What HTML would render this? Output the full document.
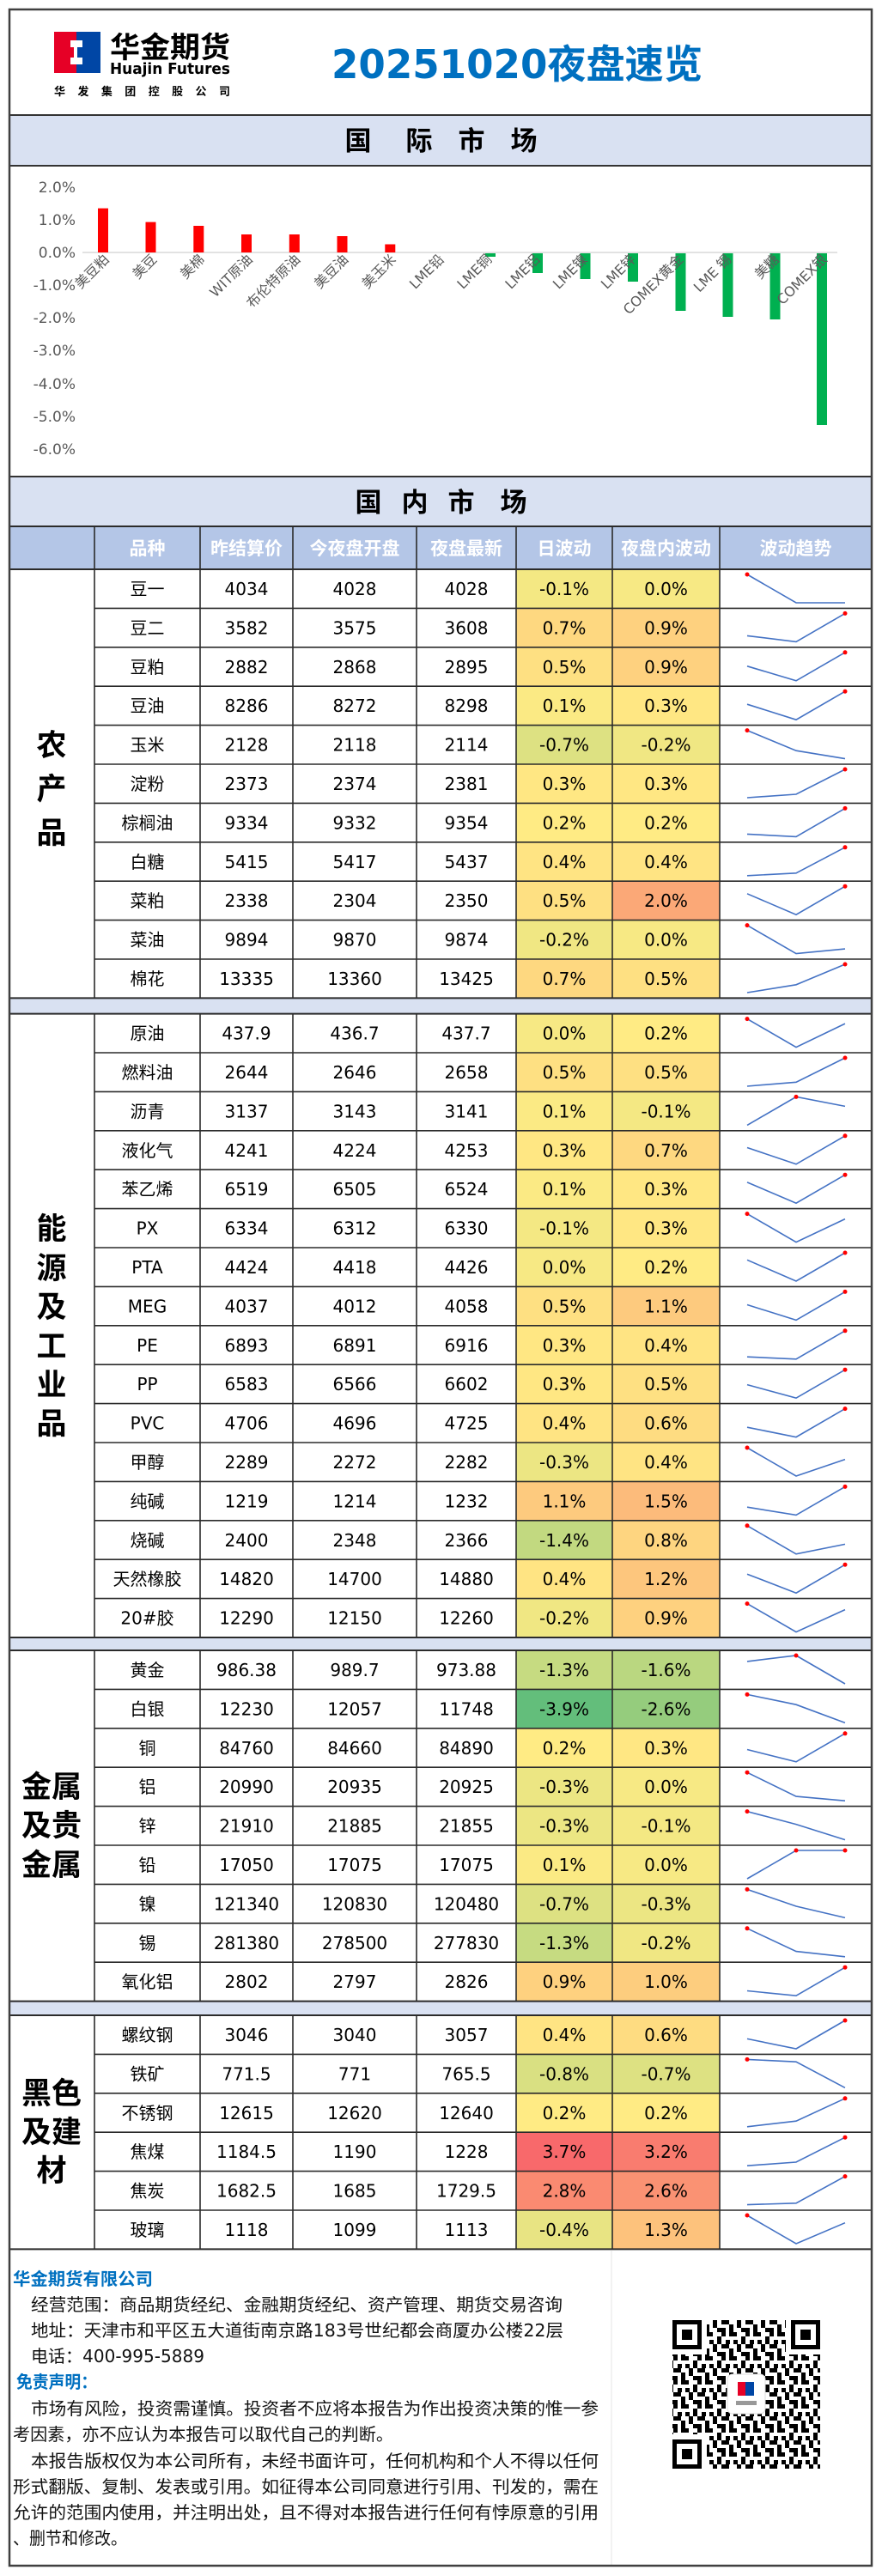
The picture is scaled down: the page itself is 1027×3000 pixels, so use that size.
<!DOCTYPE html>
<html><head><meta charset="utf-8"><style>
html,body{margin:0;padding:0;background:#fff}
svg{display:block}
text{font-family:"DejaVu Sans","Noto Sans CJK SC",sans-serif}
.r text{font-size:20px;text-anchor:middle;fill:#000}
.r polyline{fill:none;stroke:#4472c4;stroke-width:1.6}
.r circle{fill:#f00}
.r line{stroke:#2b2b2b;stroke-width:1.6}
.ax{font-size:17px;fill:#595959;text-anchor:end}
.xl{font-size:16px;fill:#595959;text-anchor:end}
.hd{font-size:21px;font-weight:bold;fill:#fff;text-anchor:middle}
.sec{font-size:35px;font-weight:bold;text-anchor:middle;fill:#000}
.ft{font-size:20px;fill:#111}
</style></head><body>
<svg width="1027" height="3000" viewBox="0 0 1027 3000" xmlns="http://www.w3.org/2000/svg">
<rect width="1027" height="3000" fill="#fff"/>

<!-- header -->
<rect x="63" y="37" width="26" height="48" fill="#e60026"/>
<rect x="89" y="37" width="28" height="48" fill="#0046a5"/>
<path d="M82 47 h14 v8 h-6 v12 h6 v8 h-14 v-8 h4 v-12 h-4z" fill="#fff"/>
<text x="128" y="67" font-size="34" font-weight="bold" textLength="140" lengthAdjust="spacingAndGlyphs">华金期货</text>
<text x="128" y="86" font-size="18" font-weight="bold" textLength="140" lengthAdjust="spacingAndGlyphs">Huajin Futures</text>
<text x="63" y="111" font-size="13" font-weight="bold" textLength="205" lengthAdjust="spacing">华发集团控股公司</text>
<text x="386" y="91" font-size="46" font-weight="bold" fill="#0070c0" textLength="432" lengthAdjust="spacingAndGlyphs">20251020夜盘速览</text>

<!-- intl band -->
<rect x="11" y="134" width="1004" height="59" fill="#d9e1f2"/>
<g font-size="31" font-weight="bold" text-anchor="middle">
<text x="417" y="175">国</text><text x="488" y="175">际</text><text x="549" y="175">市</text><text x="610" y="175">场</text>
</g>
<line x1="11" y1="134" x2="1015" y2="134" stroke="#333" stroke-width="2"/>
<line x1="11" y1="193" x2="1015" y2="193" stroke="#333" stroke-width="2"/>

<!-- chart -->
<g>
<text class="ax" x="88" y="224">2.0%</text>
<text class="ax" x="88" y="262">1.0%</text>
<text class="ax" x="88" y="300">0.0%</text>
<text class="ax" x="88" y="338">-1.0%</text>
<text class="ax" x="88" y="376">-2.0%</text>
<text class="ax" x="88" y="414">-3.0%</text>
<text class="ax" x="88" y="453">-4.0%</text>
<text class="ax" x="88" y="491">-5.0%</text>
<text class="ax" x="88" y="529">-6.0%</text>
<line x1="96" y1="294" x2="975" y2="294" stroke="#d9d9d9" stroke-width="1.5"/>
<g fill="#ff0000">
<rect x="114" y="242.6" width="12" height="51.4"/>
<rect x="169.5" y="258.6" width="12" height="35.4"/>
<rect x="225.3" y="263" width="12" height="31"/>
<rect x="281" y="273" width="12" height="21"/>
<rect x="336.8" y="273" width="12" height="21"/>
<rect x="392.5" y="275" width="12" height="19"/>
<rect x="448.3" y="284.5" width="12" height="9.5"/>
</g>
<g fill="#00b050">
<rect x="565" y="295" width="12" height="4"/>
<rect x="620" y="295" width="12" height="23"/>
<rect x="675.5" y="295" width="12" height="30"/>
<rect x="731" y="295" width="12" height="33"/>
<rect x="786.5" y="295" width="12" height="67"/>
<rect x="841.5" y="295" width="12" height="74"/>
<rect x="896.5" y="295" width="12" height="77"/>
<rect x="951" y="295" width="12" height="200"/>
</g>
<text class="xl" transform="translate(128,303) rotate(-45)">美豆粕</text>
<text class="xl" transform="translate(183.5,303) rotate(-45)">美豆</text>
<text class="xl" transform="translate(239,303) rotate(-45)">美棉</text>
<text class="xl" transform="translate(295,303) rotate(-45)">WIT原油</text>
<text class="xl" transform="translate(350.5,303) rotate(-45)">布伦特原油</text>
<text class="xl" transform="translate(406.5,303) rotate(-45)">美豆油</text>
<text class="xl" transform="translate(462,303) rotate(-45)">美玉米</text>
<text class="xl" transform="translate(518,303) rotate(-45)">LME铅</text>
<text class="xl" transform="translate(573.5,303) rotate(-45)">LME铜</text>
<text class="xl" transform="translate(629.5,303) rotate(-45)">LME铝</text>
<text class="xl" transform="translate(685,303) rotate(-45)">LME镍</text>
<text class="xl" transform="translate(741,303) rotate(-45)">LME锌</text>
<text class="xl" transform="translate(796.5,303) rotate(-45)">COMEX黄金</text>
<text class="xl" transform="translate(852.5,303) rotate(-45)">LME 锡</text>
<text class="xl" transform="translate(908,303) rotate(-45)">美糖</text>
<text class="xl" transform="translate(964,303) rotate(-45)">COMEX银</text>
</g>

<!-- domestic band & header -->
<rect x="11" y="555" width="1004" height="58" fill="#d9e1f2"/>
<line x1="11" y1="555" x2="1015" y2="555" stroke="#333" stroke-width="2"/>
<g font-size="31" font-weight="bold" text-anchor="middle">
<text x="429" y="596">国</text><text x="483" y="596">内</text><text x="537" y="596">市</text><text x="598" y="596">场</text>
</g>
<rect x="11" y="613" width="1004" height="50" fill="#b4c6e7"/>
<text class="hd" x="171.5" y="646">品种</text>
<text class="hd" x="287" y="646">昨结算价</text>
<text class="hd" x="413" y="646">今夜盘开盘</text>
<text class="hd" x="543" y="646">夜盘最新</text>
<text class="hd" x="657" y="646">日波动</text>
<text class="hd" x="775.5" y="646">夜盘内波动</text>
<text class="hd" x="926.5" y="646">波动趋势</text>

<!-- separators -->
<rect x="11" y="1162.4" width="1004" height="18.2" fill="#d9e1f2"/>
<rect x="11" y="1907" width="1004" height="15" fill="#d9e1f2"/>
<rect x="11" y="2330.6" width="1004" height="16.4" fill="#d9e1f2"/>

<!-- AG -->
<g class="r" transform="translate(0,663)"><rect x="601" width="112" height="45.4" fill="#f4e883"/><rect x="713" width="125" height="45.4" fill="#f7e984"/><line x1="110" x2="1015" y1="0" y2="0"/><text x="171.5" y="30">豆一</text><text x="287" y="30">4034</text><text x="413" y="30">4028</text><text x="543" y="30">4028</text><text x="657" y="30">-0.1%</text><text x="775.5" y="30">0.0%</text><polyline points="870,6 927,39 984,39"/><circle cx="870" cy="6" r="2.5"/></g>
<g class="r" transform="translate(0,708.4)"><rect x="601" width="112" height="45.4" fill="#fed880"/><rect x="713" width="125" height="45.4" fill="#fed17f"/><line x1="110" x2="1015" y1="0" y2="0"/><text x="171.5" y="30">豆二</text><text x="287" y="30">3582</text><text x="413" y="30">3575</text><text x="543" y="30">3608</text><text x="657" y="30">0.7%</text><text x="775.5" y="30">0.9%</text><polyline points="870,32 927,39 984,6"/><circle cx="984" cy="6" r="2.5"/></g>
<g class="r" transform="translate(0,753.8)"><rect x="601" width="112" height="45.4" fill="#fee082"/><rect x="713" width="125" height="45.4" fill="#fed17f"/><line x1="110" x2="1015" y1="0" y2="0"/><text x="171.5" y="30">豆粕</text><text x="287" y="30">2882</text><text x="413" y="30">2868</text><text x="543" y="30">2895</text><text x="657" y="30">0.5%</text><text x="775.5" y="30">0.9%</text><polyline points="870,22 927,39 984,6"/><circle cx="984" cy="6" r="2.5"/></g>
<g class="r" transform="translate(0,799.2)"><rect x="601" width="112" height="45.4" fill="#fbea84"/><rect x="713" width="125" height="45.4" fill="#ffe783"/><line x1="110" x2="1015" y1="0" y2="0"/><text x="171.5" y="30">豆油</text><text x="287" y="30">8286</text><text x="413" y="30">8272</text><text x="543" y="30">8298</text><text x="657" y="30">0.1%</text><text x="775.5" y="30">0.3%</text><polyline points="870,21 927,39 984,6"/><circle cx="984" cy="6" r="2.5"/></g>
<g class="r" transform="translate(0,844.6)"><rect x="601" width="112" height="45.4" fill="#dde182"/><rect x="713" width="125" height="45.4" fill="#f0e783"/><line x1="110" x2="1015" y1="0" y2="0"/><text x="171.5" y="30">玉米</text><text x="287" y="30">2128</text><text x="413" y="30">2118</text><text x="543" y="30">2114</text><text x="657" y="30">-0.7%</text><text x="775.5" y="30">-0.2%</text><polyline points="870,6 927,29.6 984,39"/><circle cx="870" cy="6" r="2.5"/></g>
<g class="r" transform="translate(0,890)"><rect x="601" width="112" height="45.4" fill="#ffe783"/><rect x="713" width="125" height="45.4" fill="#ffe783"/><line x1="110" x2="1015" y1="0" y2="0"/><text x="171.5" y="30">淀粉</text><text x="287" y="30">2373</text><text x="413" y="30">2374</text><text x="543" y="30">2381</text><text x="657" y="30">0.3%</text><text x="775.5" y="30">0.3%</text><polyline points="870,39 927,35 984,6"/><circle cx="984" cy="6" r="2.5"/></g>
<g class="r" transform="translate(0,935.4)"><rect x="601" width="112" height="45.4" fill="#ffeb84"/><rect x="713" width="125" height="45.4" fill="#ffeb84"/><line x1="110" x2="1015" y1="0" y2="0"/><text x="171.5" y="30">棕榈油</text><text x="287" y="30">9334</text><text x="413" y="30">9332</text><text x="543" y="30">9354</text><text x="657" y="30">0.2%</text><text x="775.5" y="30">0.2%</text><polyline points="870,36 927,39 984,6"/><circle cx="984" cy="6" r="2.5"/></g>
<g class="r" transform="translate(0,980.8)"><rect x="601" width="112" height="45.4" fill="#ffe483"/><rect x="713" width="125" height="45.4" fill="#ffe483"/><line x1="110" x2="1015" y1="0" y2="0"/><text x="171.5" y="30">白糖</text><text x="287" y="30">5415</text><text x="413" y="30">5417</text><text x="543" y="30">5437</text><text x="657" y="30">0.4%</text><text x="775.5" y="30">0.4%</text><polyline points="870,39 927,36 984,6"/><circle cx="984" cy="6" r="2.5"/></g>
<g class="r" transform="translate(0,1026.2)"><rect x="601" width="112" height="45.4" fill="#fee082"/><rect x="713" width="125" height="45.4" fill="#fba877"/><line x1="110" x2="1015" y1="0" y2="0"/><text x="171.5" y="30">菜粕</text><text x="287" y="30">2338</text><text x="413" y="30">2304</text><text x="543" y="30">2350</text><text x="657" y="30">0.5%</text><text x="775.5" y="30">2.0%</text><polyline points="870,14.6 927,39 984,6"/><circle cx="984" cy="6" r="2.5"/></g>
<g class="r" transform="translate(0,1071.6)"><rect x="601" width="112" height="45.4" fill="#f0e783"/><rect x="713" width="125" height="45.4" fill="#f7e984"/><line x1="110" x2="1015" y1="0" y2="0"/><text x="171.5" y="30">菜油</text><text x="287" y="30">9894</text><text x="413" y="30">9870</text><text x="543" y="30">9874</text><text x="657" y="30">-0.2%</text><text x="775.5" y="30">0.0%</text><polyline points="870,6 927,39 984,33.5"/><circle cx="870" cy="6" r="2.5"/></g>
<g class="r" transform="translate(0,1117)"><rect x="601" width="112" height="45.4" fill="#fed880"/><rect x="713" width="125" height="45.4" fill="#fee082"/><line x1="110" x2="1015" y1="0" y2="0"/><text x="171.5" y="30">棉花</text><text x="287" y="30">13335</text><text x="413" y="30">13360</text><text x="543" y="30">13425</text><text x="657" y="30">0.7%</text><text x="775.5" y="30">0.5%</text><polyline points="870,39 927,29.8 984,6"/><circle cx="984" cy="6" r="2.5"/></g>

<!-- ENERGY -->
<g class="r" transform="translate(0,1180.6)"><rect x="601" width="112" height="45.4" fill="#f7e984"/><rect x="713" width="125" height="45.4" fill="#ffeb84"/><text x="171.5" y="30">原油</text><text x="287" y="30">437.9</text><text x="413" y="30">436.7</text><text x="543" y="30">437.7</text><text x="657" y="30">0.0%</text><text x="775.5" y="30">0.2%</text><polyline points="870,6 927,39 984,11.5"/><circle cx="870" cy="6" r="2.5"/></g>
<g class="r" transform="translate(0,1226)"><rect x="601" width="112" height="45.4" fill="#fee082"/><rect x="713" width="125" height="45.4" fill="#fee082"/><line x1="110" x2="1015" y1="0" y2="0"/><text x="171.5" y="30">燃料油</text><text x="287" y="30">2644</text><text x="413" y="30">2646</text><text x="543" y="30">2658</text><text x="657" y="30">0.5%</text><text x="775.5" y="30">0.5%</text><polyline points="870,39 927,34.3 984,6"/><circle cx="984" cy="6" r="2.5"/></g>
<g class="r" transform="translate(0,1271.4)"><rect x="601" width="112" height="45.4" fill="#fbea84"/><rect x="713" width="125" height="45.4" fill="#f4e883"/><line x1="110" x2="1015" y1="0" y2="0"/><text x="171.5" y="30">沥青</text><text x="287" y="30">3137</text><text x="413" y="30">3143</text><text x="543" y="30">3141</text><text x="657" y="30">0.1%</text><text x="775.5" y="30">-0.1%</text><polyline points="870,39 927,6 984,17"/><circle cx="927" cy="6" r="2.5"/></g>
<g class="r" transform="translate(0,1316.8)"><rect x="601" width="112" height="45.4" fill="#ffe783"/><rect x="713" width="125" height="45.4" fill="#fed880"/><line x1="110" x2="1015" y1="0" y2="0"/><text x="171.5" y="30">液化气</text><text x="287" y="30">4241</text><text x="413" y="30">4224</text><text x="543" y="30">4253</text><text x="657" y="30">0.3%</text><text x="775.5" y="30">0.7%</text><polyline points="870,19.7 927,39 984,6"/><circle cx="984" cy="6" r="2.5"/></g>
<g class="r" transform="translate(0,1362.2)"><rect x="601" width="112" height="45.4" fill="#fbea84"/><rect x="713" width="125" height="45.4" fill="#ffe783"/><line x1="110" x2="1015" y1="0" y2="0"/><text x="171.5" y="30">苯乙烯</text><text x="287" y="30">6519</text><text x="413" y="30">6505</text><text x="543" y="30">6524</text><text x="657" y="30">0.1%</text><text x="775.5" y="30">0.3%</text><polyline points="870,14.7 927,39 984,6"/><circle cx="984" cy="6" r="2.5"/></g>
<g class="r" transform="translate(0,1407.6)"><rect x="601" width="112" height="45.4" fill="#f4e883"/><rect x="713" width="125" height="45.4" fill="#ffe783"/><line x1="110" x2="1015" y1="0" y2="0"/><text x="171.5" y="30">PX</text><text x="287" y="30">6334</text><text x="413" y="30">6312</text><text x="543" y="30">6330</text><text x="657" y="30">-0.1%</text><text x="775.5" y="30">0.3%</text><polyline points="870,6 927,39 984,12"/><circle cx="870" cy="6" r="2.5"/></g>
<g class="r" transform="translate(0,1453)"><rect x="601" width="112" height="45.4" fill="#f7e984"/><rect x="713" width="125" height="45.4" fill="#ffeb84"/><line x1="110" x2="1015" y1="0" y2="0"/><text x="171.5" y="30">PTA</text><text x="287" y="30">4424</text><text x="413" y="30">4418</text><text x="543" y="30">4426</text><text x="657" y="30">0.0%</text><text x="775.5" y="30">0.2%</text><polyline points="870,14.3 927,39 984,6"/><circle cx="984" cy="6" r="2.5"/></g>
<g class="r" transform="translate(0,1498.4)"><rect x="601" width="112" height="45.4" fill="#fee082"/><rect x="713" width="125" height="45.4" fill="#fdca7e"/><line x1="110" x2="1015" y1="0" y2="0"/><text x="171.5" y="30">MEG</text><text x="287" y="30">4037</text><text x="413" y="30">4012</text><text x="543" y="30">4058</text><text x="657" y="30">0.5%</text><text x="775.5" y="30">1.1%</text><polyline points="870,21.1 927,39 984,6"/><circle cx="984" cy="6" r="2.5"/></g>
<g class="r" transform="translate(0,1543.8)"><rect x="601" width="112" height="45.4" fill="#ffe783"/><rect x="713" width="125" height="45.4" fill="#ffe483"/><line x1="110" x2="1015" y1="0" y2="0"/><text x="171.5" y="30">PE</text><text x="287" y="30">6893</text><text x="413" y="30">6891</text><text x="543" y="30">6916</text><text x="657" y="30">0.3%</text><text x="775.5" y="30">0.4%</text><polyline points="870,36.4 927,39 984,6"/><circle cx="984" cy="6" r="2.5"/></g>
<g class="r" transform="translate(0,1589.2)"><rect x="601" width="112" height="45.4" fill="#ffe783"/><rect x="713" width="125" height="45.4" fill="#fee082"/><line x1="110" x2="1015" y1="0" y2="0"/><text x="171.5" y="30">PP</text><text x="287" y="30">6583</text><text x="413" y="30">6566</text><text x="543" y="30">6602</text><text x="657" y="30">0.3%</text><text x="775.5" y="30">0.5%</text><polyline points="870,23.4 927,39 984,6"/><circle cx="984" cy="6" r="2.5"/></g>
<g class="r" transform="translate(0,1634.6)"><rect x="601" width="112" height="45.4" fill="#ffe483"/><rect x="713" width="125" height="45.4" fill="#fedc81"/><line x1="110" x2="1015" y1="0" y2="0"/><text x="171.5" y="30">PVC</text><text x="287" y="30">4706</text><text x="413" y="30">4696</text><text x="543" y="30">4725</text><text x="657" y="30">0.4%</text><text x="775.5" y="30">0.6%</text><polyline points="870,27.6 927,39 984,6"/><circle cx="984" cy="6" r="2.5"/></g>
<g class="r" transform="translate(0,1680)"><rect x="601" width="112" height="45.4" fill="#ece683"/><rect x="713" width="125" height="45.4" fill="#ffe483"/><line x1="110" x2="1015" y1="0" y2="0"/><text x="171.5" y="30">甲醇</text><text x="287" y="30">2289</text><text x="413" y="30">2272</text><text x="543" y="30">2282</text><text x="657" y="30">-0.3%</text><text x="775.5" y="30">0.4%</text><polyline points="870,6 927,39 984,19.6"/><circle cx="870" cy="6" r="2.5"/></g>
<g class="r" transform="translate(0,1725.4)"><rect x="601" width="112" height="45.4" fill="#fdca7e"/><rect x="713" width="125" height="45.4" fill="#fcbb7b"/><line x1="110" x2="1015" y1="0" y2="0"/><text x="171.5" y="30">纯碱</text><text x="287" y="30">1219</text><text x="413" y="30">1214</text><text x="543" y="30">1232</text><text x="657" y="30">1.1%</text><text x="775.5" y="30">1.5%</text><polyline points="870,29.8 927,39 984,6"/><circle cx="984" cy="6" r="2.5"/></g>
<g class="r" transform="translate(0,1770.8)"><rect x="601" width="112" height="45.4" fill="#c2d980"/><rect x="713" width="125" height="45.4" fill="#fed580"/><line x1="110" x2="1015" y1="0" y2="0"/><text x="171.5" y="30">烧碱</text><text x="287" y="30">2400</text><text x="413" y="30">2348</text><text x="543" y="30">2366</text><text x="657" y="30">-1.4%</text><text x="775.5" y="30">0.8%</text><polyline points="870,6 927,39 984,27.6"/><circle cx="870" cy="6" r="2.5"/></g>
<g class="r" transform="translate(0,1816.2)"><rect x="601" width="112" height="45.4" fill="#ffe483"/><rect x="713" width="125" height="45.4" fill="#fdc67d"/><line x1="110" x2="1015" y1="0" y2="0"/><text x="171.5" y="30">天然橡胶</text><text x="287" y="30">14820</text><text x="413" y="30">14700</text><text x="543" y="30">14880</text><text x="657" y="30">0.4%</text><text x="775.5" y="30">1.2%</text><polyline points="870,17 927,39 984,6"/><circle cx="984" cy="6" r="2.5"/></g>
<g class="r" transform="translate(0,1861.6)"><rect x="601" width="112" height="45.4" fill="#f0e783"/><rect x="713" width="125" height="45.4" fill="#fed17f"/><line x1="110" x2="1015" y1="0" y2="0"/><text x="171.5" y="30">20#胶</text><text x="287" y="30">12290</text><text x="413" y="30">12150</text><text x="543" y="30">12260</text><text x="657" y="30">-0.2%</text><text x="775.5" y="30">0.9%</text><polyline points="870,6 927,39 984,13"/><circle cx="870" cy="6" r="2.5"/></g>

<!-- METALS -->
<g class="r" transform="translate(0,1922)"><rect x="601" width="112" height="45.4" fill="#c6db81"/><rect x="713" width="125" height="45.4" fill="#bad780"/><text x="171.5" y="30">黄金</text><text x="287" y="30">986.38</text><text x="413" y="30">989.7</text><text x="543" y="30">973.88</text><text x="657" y="30">-1.3%</text><text x="775.5" y="30">-1.6%</text><polyline points="870,12.9 927,6 984,39"/><circle cx="927" cy="6" r="2.5"/></g>
<g class="r" transform="translate(0,1967.4)"><rect x="601" width="112" height="45.4" fill="#63be7b"/><rect x="713" width="125" height="45.4" fill="#95cc7d"/><line x1="110" x2="1015" y1="0" y2="0"/><text x="171.5" y="30">白银</text><text x="287" y="30">12230</text><text x="413" y="30">12057</text><text x="543" y="30">11748</text><text x="657" y="30">-3.9%</text><text x="775.5" y="30">-2.6%</text><polyline points="870,6 927,17.8 984,39"/><circle cx="870" cy="6" r="2.5"/></g>
<g class="r" transform="translate(0,2012.8)"><rect x="601" width="112" height="45.4" fill="#ffeb84"/><rect x="713" width="125" height="45.4" fill="#ffe783"/><line x1="110" x2="1015" y1="0" y2="0"/><text x="171.5" y="30">铜</text><text x="287" y="30">84760</text><text x="413" y="30">84660</text><text x="543" y="30">84890</text><text x="657" y="30">0.2%</text><text x="775.5" y="30">0.3%</text><polyline points="870,24.7 927,39 984,6"/><circle cx="984" cy="6" r="2.5"/></g>
<g class="r" transform="translate(0,2058.2)"><rect x="601" width="112" height="45.4" fill="#ece683"/><rect x="713" width="125" height="45.4" fill="#f7e984"/><line x1="110" x2="1015" y1="0" y2="0"/><text x="171.5" y="30">铝</text><text x="287" y="30">20990</text><text x="413" y="30">20935</text><text x="543" y="30">20925</text><text x="657" y="30">-0.3%</text><text x="775.5" y="30">0.0%</text><polyline points="870,6 927,33.9 984,39"/><circle cx="870" cy="6" r="2.5"/></g>
<g class="r" transform="translate(0,2103.6)"><rect x="601" width="112" height="45.4" fill="#ece683"/><rect x="713" width="125" height="45.4" fill="#f4e883"/><line x1="110" x2="1015" y1="0" y2="0"/><text x="171.5" y="30">锌</text><text x="287" y="30">21910</text><text x="413" y="30">21885</text><text x="543" y="30">21855</text><text x="657" y="30">-0.3%</text><text x="775.5" y="30">-0.1%</text><polyline points="870,6 927,21 984,39"/><circle cx="870" cy="6" r="2.5"/></g>
<g class="r" transform="translate(0,2149)"><rect x="601" width="112" height="45.4" fill="#fbea84"/><rect x="713" width="125" height="45.4" fill="#f7e984"/><line x1="110" x2="1015" y1="0" y2="0"/><text x="171.5" y="30">铅</text><text x="287" y="30">17050</text><text x="413" y="30">17075</text><text x="543" y="30">17075</text><text x="657" y="30">0.1%</text><text x="775.5" y="30">0.0%</text><polyline points="870,39 927,6 984,6"/><circle cx="927" cy="6" r="2.5"/><circle cx="984" cy="6" r="2.5"/></g>
<g class="r" transform="translate(0,2194.4)"><rect x="601" width="112" height="45.4" fill="#dde182"/><rect x="713" width="125" height="45.4" fill="#ece683"/><line x1="110" x2="1015" y1="0" y2="0"/><text x="171.5" y="30">镍</text><text x="287" y="30">121340</text><text x="413" y="30">120830</text><text x="543" y="30">120480</text><text x="657" y="30">-0.7%</text><text x="775.5" y="30">-0.3%</text><polyline points="870,6 927,25.6 984,39"/><circle cx="870" cy="6" r="2.5"/></g>
<g class="r" transform="translate(0,2239.8)"><rect x="601" width="112" height="45.4" fill="#c6db81"/><rect x="713" width="125" height="45.4" fill="#f0e783"/><line x1="110" x2="1015" y1="0" y2="0"/><text x="171.5" y="30">锡</text><text x="287" y="30">281380</text><text x="413" y="30">278500</text><text x="543" y="30">277830</text><text x="657" y="30">-1.3%</text><text x="775.5" y="30">-0.2%</text><polyline points="870,6 927,32.8 984,39"/><circle cx="870" cy="6" r="2.5"/></g>
<g class="r" transform="translate(0,2285.2)"><rect x="601" width="112" height="45.4" fill="#fed17f"/><rect x="713" width="125" height="45.4" fill="#fdcd7e"/><line x1="110" x2="1015" y1="0" y2="0"/><text x="171.5" y="30">氧化铝</text><text x="287" y="30">2802</text><text x="413" y="30">2797</text><text x="543" y="30">2826</text><text x="657" y="30">0.9%</text><text x="775.5" y="30">1.0%</text><polyline points="870,33.3 927,39 984,6"/><circle cx="984" cy="6" r="2.5"/></g>

<!-- BLACK -->
<g class="r" transform="translate(0,2347)"><rect x="601" width="112" height="45.4" fill="#ffe483"/><rect x="713" width="125" height="45.4" fill="#fedc81"/><text x="171.5" y="30">螺纹钢</text><text x="287" y="30">3046</text><text x="413" y="30">3040</text><text x="543" y="30">3057</text><text x="657" y="30">0.4%</text><text x="775.5" y="30">0.6%</text><polyline points="870,27.4 927,39 984,6"/><circle cx="984" cy="6" r="2.5"/></g>
<g class="r" transform="translate(0,2392.4)"><rect x="601" width="112" height="45.4" fill="#d9e082"/><rect x="713" width="125" height="45.4" fill="#dde182"/><line x1="110" x2="1015" y1="0" y2="0"/><text x="171.5" y="30">铁矿</text><text x="287" y="30">771.5</text><text x="413" y="30">771</text><text x="543" y="30">765.5</text><text x="657" y="30">-0.8%</text><text x="775.5" y="30">-0.7%</text><polyline points="870,6 927,8.8 984,39"/><circle cx="870" cy="6" r="2.5"/></g>
<g class="r" transform="translate(0,2437.8)"><rect x="601" width="112" height="45.4" fill="#ffeb84"/><rect x="713" width="125" height="45.4" fill="#ffeb84"/><line x1="110" x2="1015" y1="0" y2="0"/><text x="171.5" y="30">不锈钢</text><text x="287" y="30">12615</text><text x="413" y="30">12620</text><text x="543" y="30">12640</text><text x="657" y="30">0.2%</text><text x="775.5" y="30">0.2%</text><polyline points="870,39 927,32.4 984,6"/><circle cx="984" cy="6" r="2.5"/></g>
<g class="r" transform="translate(0,2483.2)"><rect x="601" width="112" height="45.4" fill="#f8696b"/><rect x="713" width="125" height="45.4" fill="#f97c6f"/><line x1="110" x2="1015" y1="0" y2="0"/><text x="171.5" y="30">焦煤</text><text x="287" y="30">1184.5</text><text x="413" y="30">1190</text><text x="543" y="30">1228</text><text x="657" y="30">3.7%</text><text x="775.5" y="30">3.2%</text><polyline points="870,39 927,34.8 984,6"/><circle cx="984" cy="6" r="2.5"/></g>
<g class="r" transform="translate(0,2528.6)"><rect x="601" width="112" height="45.4" fill="#fa8a71"/><rect x="713" width="125" height="45.4" fill="#fa9273"/><line x1="110" x2="1015" y1="0" y2="0"/><text x="171.5" y="30">焦炭</text><text x="287" y="30">1682.5</text><text x="413" y="30">1685</text><text x="543" y="30">1729.5</text><text x="657" y="30">2.8%</text><text x="775.5" y="30">2.6%</text><polyline points="870,39 927,37.2 984,6"/><circle cx="984" cy="6" r="2.5"/></g>
<g class="r" transform="translate(0,2574)"><rect x="601" width="112" height="45.4" fill="#e8e483"/><rect x="713" width="125" height="45.4" fill="#fdc27c"/><line x1="110" x2="1015" y1="0" y2="0"/><text x="171.5" y="30">玻璃</text><text x="287" y="30">1118</text><text x="413" y="30">1099</text><text x="543" y="30">1113</text><text x="657" y="30">-0.4%</text><text x="775.5" y="30">1.3%</text><polyline points="870,6 927,39 984,14.7"/><circle cx="870" cy="6" r="2.5"/></g>

<!-- table grid lines -->
<g stroke="#2b2b2b" stroke-width="2">
<line x1="11" y1="613" x2="1015" y2="613"/>
<line x1="11" y1="663" x2="1015" y2="663"/>
<line x1="11" y1="1162.4" x2="1015" y2="1162.4"/>
<line x1="11" y1="1180.6" x2="1015" y2="1180.6"/>
<line x1="11" y1="1907" x2="1015" y2="1907"/>
<line x1="11" y1="1922" x2="1015" y2="1922"/>
<line x1="11" y1="2330.6" x2="1015" y2="2330.6"/>
<line x1="11" y1="2347" x2="1015" y2="2347"/>
<line x1="11" y1="2619.4" x2="1015" y2="2619.4"/>
</g>
<g stroke="#2b2b2b" stroke-width="1.6">
<path d="M110 613V1162.4M233 613V1162.4M341 613V1162.4M485 613V1162.4M601 613V1162.4M713 613V1162.4M838 613V1162.4"/>
<path d="M110 1180.6V1907M233 1180.6V1907M341 1180.6V1907M485 1180.6V1907M601 1180.6V1907M713 1180.6V1907M838 1180.6V1907"/>
<path d="M110 1922V2330.6M233 1922V2330.6M341 1922V2330.6M485 1922V2330.6M601 1922V2330.6M713 1922V2330.6M838 1922V2330.6"/>
<path d="M110 2347V2619.4M233 2347V2619.4M341 2347V2619.4M485 2347V2619.4M601 2347V2619.4M713 2347V2619.4M838 2347V2619.4"/>
</g>

<!-- section labels -->
<text class="sec" x="60" y="880">农</text>
<text class="sec" x="60" y="931">产</text>
<text class="sec" x="60" y="982">品</text>
<text class="sec" x="60" y="1443" font-size="34">能</text>
<text class="sec" x="60" y="1489" font-size="34">源</text>
<text class="sec" x="60" y="1534" font-size="34">及</text>
<text class="sec" x="60" y="1580" font-size="34">工</text>
<text class="sec" x="60" y="1625" font-size="34">业</text>
<text class="sec" x="60" y="1670" font-size="34">品</text>
<text class="sec" x="60" y="2093" font-size="33">金属</text>
<text class="sec" x="60" y="2138" font-size="33">及贵</text>
<text class="sec" x="60" y="2184" font-size="33">金属</text>
<text class="sec" x="60" y="2450" font-size="33">黑色</text>
<text class="sec" x="60" y="2495" font-size="33">及建</text>
<text class="sec" x="60" y="2540" font-size="33">材</text>

<!-- footer -->
<line x1="712" y1="2621" x2="712" y2="2988" stroke="#e4e4e4" stroke-width="1"/>
<text x="15" y="2661" font-size="20" font-weight="bold" fill="#0070c0" textLength="163" lengthAdjust="spacingAndGlyphs">华金期货有限公司</text>
<text class="ft" x="36" y="2691" textLength="619" lengthAdjust="spacingAndGlyphs">经营范围：商品期货经纪、金融期货经纪、资产管理、期货交易咨询</text>
<text class="ft" x="36" y="2721" textLength="620" lengthAdjust="spacingAndGlyphs">地址：天津市和平区五大道街南京路183号世纪都会商厦办公楼22层</text>
<text class="ft" x="36" y="2751" textLength="202" lengthAdjust="spacingAndGlyphs">电话：400-995-5889</text>
<text x="19" y="2781" font-size="20" font-weight="bold" fill="#0070c0" textLength="94" lengthAdjust="spacingAndGlyphs">免责声明：</text>
<text class="ft" x="36" y="2812" textLength="661" lengthAdjust="spacingAndGlyphs">市场有风险，投资需谨慎。投资者不应将本报告为作出投资决策的惟一参</text>
<text class="ft" x="15" y="2842" textLength="443" lengthAdjust="spacingAndGlyphs">考因素，亦不应认为本报告可以取代自己的判断。</text>
<text class="ft" x="36" y="2873" textLength="661" lengthAdjust="spacingAndGlyphs">本报告版权仅为本公司所有，未经书面许可，任何机构和个人不得以任何</text>
<text class="ft" x="15" y="2903" textLength="682" lengthAdjust="spacingAndGlyphs">形式翻版、复制、发表或引用。如征得本公司同意进行引用、刊发的，需在</text>
<text class="ft" x="15" y="2933" textLength="682" lengthAdjust="spacingAndGlyphs">允许的范围内使用，并注明出处，且不得对本报告进行任何有悖原意的引用</text>
<text class="ft" x="15" y="2963" textLength="133" lengthAdjust="spacingAndGlyphs">、删节和修改。</text>

<!-- QR -->
<defs>
<pattern id="qr" width="28" height="28" patternUnits="userSpaceOnUse">
<rect width="28" height="28" fill="#fff"/>
<rect x="0" y="0" width="5" height="5" fill="#000"/><rect x="9" y="0" width="9" height="5" fill="#000"/>
<rect x="23" y="5" width="5" height="9" fill="#000"/><rect x="5" y="9" width="5" height="5" fill="#000"/>
<rect x="14" y="9" width="5" height="5" fill="#000"/><rect x="0" y="14" width="9" height="5" fill="#000"/>
<rect x="18" y="14" width="5" height="9" fill="#000"/><rect x="9" y="19" width="5" height="9" fill="#000"/>
<rect x="23" y="23" width="5" height="5" fill="#000"/><rect x="0" y="23" width="5" height="5" fill="#000"/>
</pattern>
</defs>
<rect x="783" y="2702" width="172" height="173" fill="url(#qr)"/>
<g fill="#fff"><rect x="783" y="2702" width="40" height="40"/><rect x="915" y="2702" width="40" height="40"/><rect x="783" y="2835" width="40" height="40"/></g>
<g fill="none" stroke="#000" stroke-width="5">
<rect x="785.5" y="2704.5" width="29" height="29"/><rect x="923.5" y="2704.5" width="29" height="29"/><rect x="785.5" y="2843.5" width="29" height="29"/>
</g>
<g fill="#000"><rect x="794" y="2713" width="12" height="12"/><rect x="932" y="2713" width="12" height="12"/><rect x="794" y="2852" width="12" height="12"/></g>
<rect x="847" y="2765" width="44" height="46" rx="6" fill="#fff" stroke="#ddd"/>
<rect x="859" y="2774" width="9" height="16" fill="#e60026"/><rect x="868" y="2774" width="10" height="16" fill="#0046a5"/>
<rect x="857" y="2796" width="24" height="5" fill="#999"/>

<!-- outer border -->
<rect x="11" y="11" width="1004" height="2977" fill="none" stroke="#404040" stroke-width="2.5"/>
</svg>
</body></html>
